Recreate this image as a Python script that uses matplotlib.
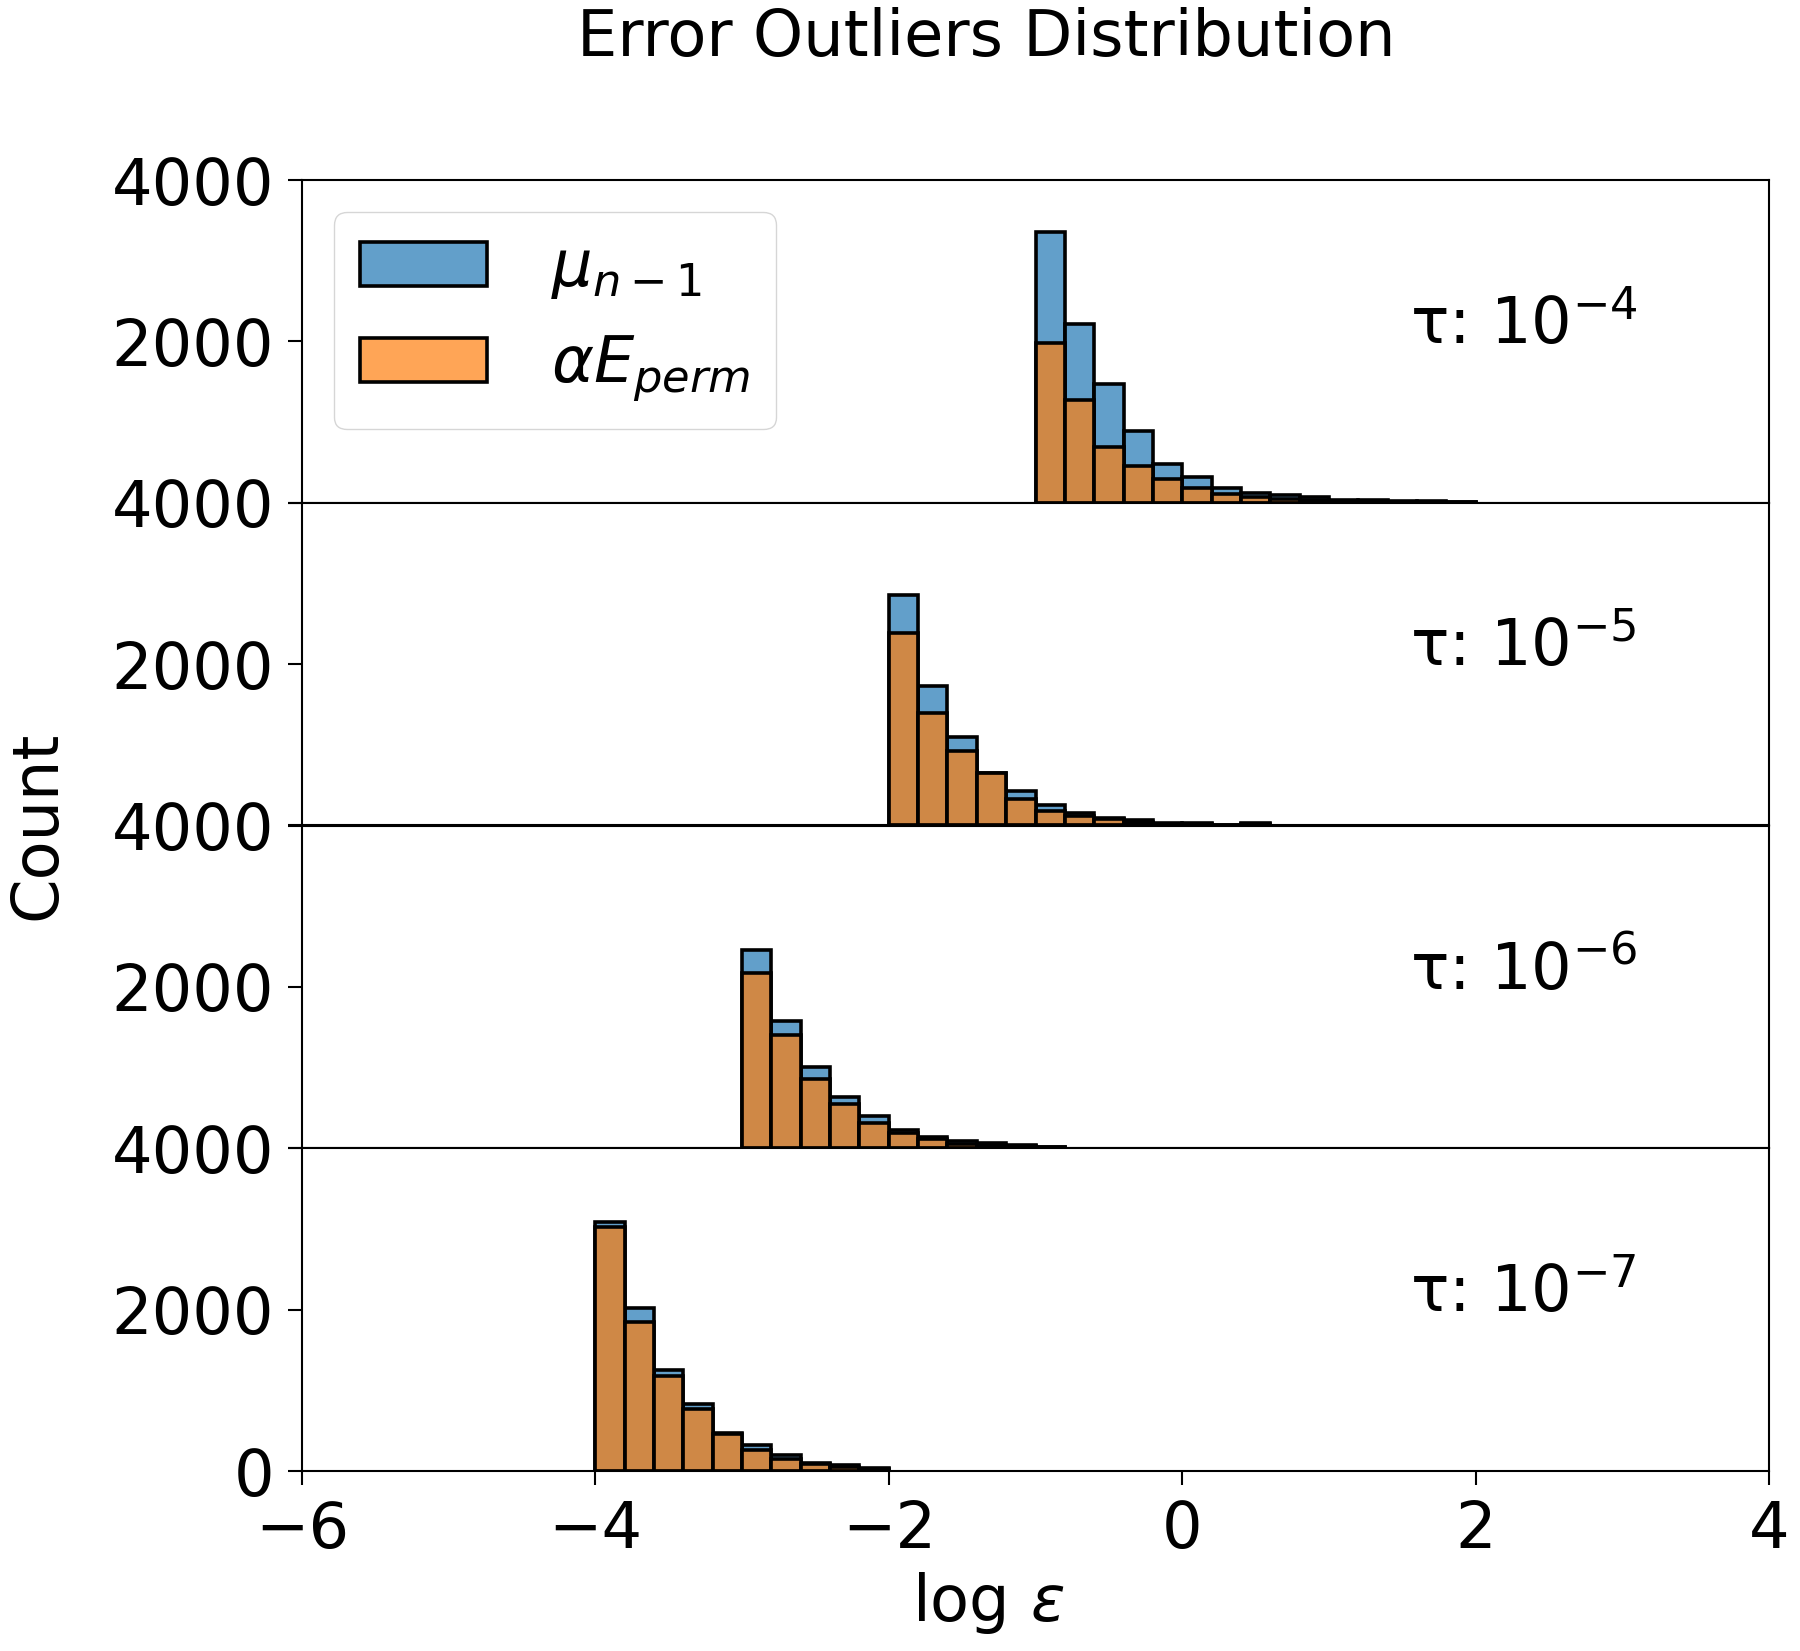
import matplotlib
matplotlib.use("Agg")
import matplotlib.pyplot as plt
from matplotlib.colors import to_rgba
import numpy as np

# ---- data ----
tau_labels = [r"τ: $10^{-4}$", r"τ: $10^{-5}$", r"τ: $10^{-6}$", r"τ: $10^{-7}$"]
bin_start = [-1.0, -2.0, -3.0, -4.0]
bin_width = 0.2

mu_counts = [
    [3350, 2210, 1470, 890, 485, 320, 187, 124, 95, 70, 32, 28, 24, 18, 12],
    [2857, 1730, 1097, 654, 426, 252, 149, 95, 62, 30, 25, 0, 28],
    [2456, 1577, 1006, 633, 394, 229, 145, 96, 67, 35, 15],
    [3092, 2018, 1247, 835, 470, 318, 203, 99, 71, 42],
]
perm_counts = [
    [1975, 1272, 692, 456, 290, 179, 112, 70, 50, 35, 20, 15, 10, 8, 5],
    [2380, 1399, 923, 645, 323, 178, 116, 75, 45, 22, 18, 0, 20],
    [2173, 1400, 862, 551, 319, 186, 117, 55, 40, 25, 10],
    [3030, 1845, 1173, 773, 460, 256, 154, 92, 50, 25],
]

series_labels = [r"$\mu_{n-1}$", r"$\alpha E_{perm}$"]
x_ticks = [-6, -4, -2, 0, 2, 4]

FS = 46
plt.rcParams['font.family'] = ['DejaVu Sans']
plt.rcParams['mathtext.fontset'] = 'dejavusans'

blue = to_rgba('#1f77b4', 0.7)
orange = to_rgba('#ff7f0e', 0.7)

fig, axes = plt.subplots(4, 1, figsize=(18, 16.51), dpi=100, sharex=True)
fig.subplots_adjust(left=302/1800, right=1769/1800, top=1-180/1651,
                    bottom=1-1471/1651, hspace=0)

for i, ax in enumerate(axes):
    n = len(mu_counts[i])
    left = bin_start[i] + bin_width * np.arange(n)
    b1 = ax.bar(left, mu_counts[i], width=bin_width, align='edge',
                facecolor=blue, edgecolor='black', linewidth=2.6,
                label=series_labels[0])
    b2 = ax.bar(left, perm_counts[i], width=bin_width, align='edge',
                facecolor=orange, edgecolor='black', linewidth=2.6,
                label=series_labels[1])
    ax.set_xlim(-6, 4)
    ax.set_ylim(0, 4000)
    ax.set_yticks([0, 2000, 4000])
    if i < 3:
        ax.set_yticklabels(["", "2000", "4000"])
        ax.tick_params(axis='x', bottom=False)
    else:
        ax.set_yticklabels(["0", "2000", "4000"])
    ax.tick_params(axis='both', labelsize=FS, length=10, width=1.5, pad=10)
    for sp in ax.spines.values():
        sp.set_linewidth(1.5)
    ax.text(0.755, 0.55, tau_labels[i], transform=ax.transAxes,
            fontsize=FS, ha='left', va='center')
    if i == 0:
        ax.legend(handles=[b1, b2], loc='upper left', fontsize=FS,
                  framealpha=0.8, fancybox=True, handletextpad=1.0)

axes[-1].set_xticks(x_ticks)

fig.text(0.548, 1-38/1651, "Error Outliers Distribution", fontsize=FS,
         ha='center', va='center')
fig.text(0.549, 1-1603/1651, r"$\log\,\varepsilon$", fontsize=FS,
         ha='center', va='center')
fig.text(37/1800, 0.5, "Count", fontsize=FS, rotation=90,
         ha='center', va='center')

fig.savefig("out.png", dpi=100)
